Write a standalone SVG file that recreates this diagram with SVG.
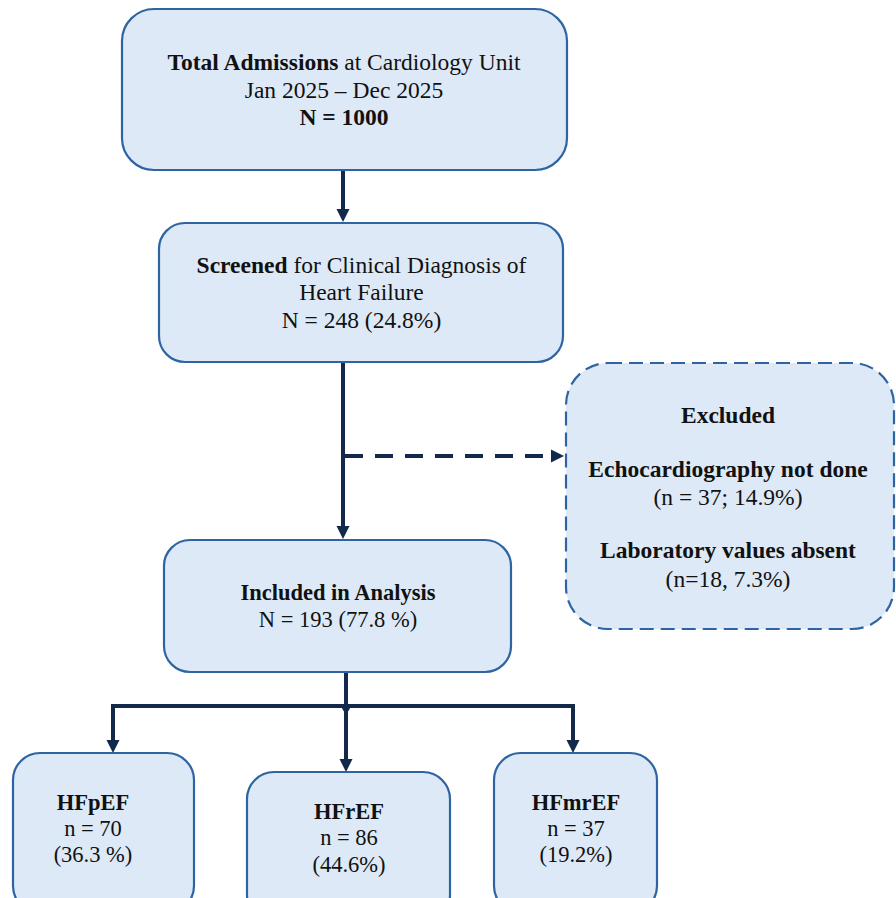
<svg xmlns="http://www.w3.org/2000/svg" width="896" height="898" viewBox="0 0 896 898">
<defs>
<style>
.box{fill:#dde9f6;stroke:#2e64a2;stroke-width:2.2}
.dbox{fill:#dde9f6;stroke:#2e64a2;stroke-width:2.2;stroke-dasharray:14 7}
.t{font-family:"Liberation Serif","Times New Roman",serif;font-size:23.5px;fill:#111;text-anchor:middle}
.s{font-size:22.5px}
.b{font-weight:bold}
.c{fill:none;stroke:#13294b;stroke-width:4}
.d{stroke-dasharray:18 12}
</style>
<marker id="ah" markerUnits="userSpaceOnUse" markerWidth="13" markerHeight="14" refX="5" refY="7" orient="auto">
<path d="M0,0.5 L13,7 L0,13.5 z" fill="#13294b"/>
</marker>
</defs>
<g id="connectors">
<line class="c" x1="343" y1="170" x2="343" y2="214" marker-end="url(#ah)"/>
<line class="c" x1="343" y1="362" x2="343" y2="531" marker-end="url(#ah)"/>
<line class="c d" x1="345" y1="456" x2="556" y2="456" marker-end="url(#ah)"/>
<line class="c" x1="346" y1="672" x2="346" y2="764" marker-end="url(#ah)"/>
<polyline class="c" points="113,745 113,706 573,706 573,745"/>
<line x1="113" y1="706" x2="113" y2="745" class="c" marker-end="url(#ah)"/>
<line x1="573" y1="706" x2="573" y2="745" class="c" marker-end="url(#ah)"/>
<polygon points="339.5,704 352.5,704 346,715" fill="#13294b"/>
</g>
<g id="total">
<rect class="box" x="122" y="9" width="445" height="161" rx="32"/>
<text class="t" x="344" y="70"><tspan class="b">Total Admissions</tspan> at Cardiology Unit</text>
<text class="t" x="344" y="98">Jan 2025 – Dec 2025</text>
<text class="t b" x="344" y="125">N = 1000</text>
</g>
<g id="screened">
<rect class="box" x="159" y="223" width="404" height="139" rx="26"/>
<text class="t" x="361.5" y="273"><tspan class="b">Screened</tspan> for Clinical Diagnosis of</text>
<text class="t" x="361.5" y="300">Heart Failure</text>
<text class="t" x="361.5" y="328">N = 248 (24.8%)</text>
</g>
<g id="excluded">
<rect class="dbox" x="566" y="363" width="328" height="266" rx="42"/>
<text class="t b" x="728" y="423">Excluded</text>
<text class="t b" x="728" y="477">Echocardiography not done</text>
<text class="t" x="728" y="505">(n = 37; 14.9%)</text>
<text class="t b" x="728" y="558">Laboratory values absent</text>
<text class="t" x="728" y="587">(n=18, 7.3%)</text>
</g>
<g id="included">
<rect class="box" x="164" y="540" width="347" height="132" rx="26"/>
<text class="t s b" x="338" y="600">Included in Analysis</text>
<text class="t s" x="338" y="627">N = 193 (77.8 %)</text>
</g>
<g id="hfpef">
<rect class="box" x="13" y="753" width="181" height="160" rx="27"/>
<text class="t s b" x="93" y="810">HFpEF</text>
<text class="t s" x="93" y="836">n = 70</text>
<text class="t s" x="93" y="862">(36.3 %)</text>
</g>
<g id="hfref">
<rect class="box" x="247" y="772" width="203" height="150" rx="27"/>
<text class="t s b" x="349" y="819">HFrEF</text>
<text class="t s" x="349" y="845">n = 86</text>
<text class="t s" x="349" y="872">(44.6%)</text>
</g>
<g id="hfmref">
<rect class="box" x="494" y="753" width="163" height="160" rx="27"/>
<text class="t s b" x="576" y="810">HFmrEF</text>
<text class="t s" x="576" y="836">n = 37</text>
<text class="t s" x="576" y="862">(19.2%)</text>
</g>
</svg>
